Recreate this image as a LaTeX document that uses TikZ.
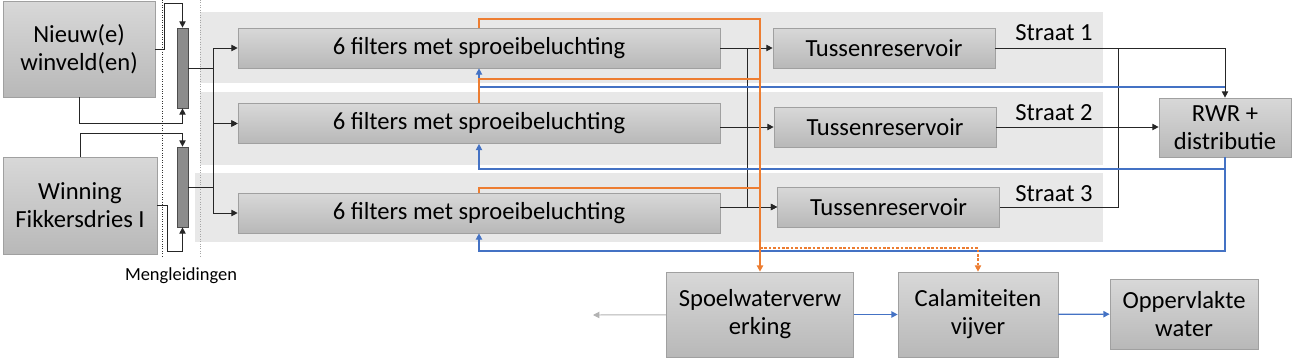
\documentclass[tikz,border=0pt]{standalone}
\usepackage{fontspec}
\setmainfont{Carlito}
\usetikzlibrary{arrows.meta,positioning}
\definecolor{boxtop}{RGB}{216,216,216}
\definecolor{boxbot}{RGB}{184,184,184}
\definecolor{boxline}{RGB}{160,160,160}
\definecolor{bandgray}{RGB}{232,232,232}
\definecolor{barfill}{RGB}{140,140,140}
\definecolor{wblue}{RGB}{68,114,196}
\definecolor{worange}{RGB}{237,125,49}
\tikzset{
  box/.style={draw=boxline, top color=boxtop, bottom color=boxbot, align=center,
              font=\fontsize{14}{16}\selectfont, inner sep=0pt},
  bar/.style={draw=black!70, fill=barfill, minimum width=0.22cm,
              minimum height=1.6cm, inner sep=0pt},
  band/.style={fill=bandgray, draw=none},
  pipe/.style={line width=0.55pt, black!85},
  flow/.style={pipe, -{Triangle[length=3.6pt,width=3.6pt]}},
  wash/.style={flow, worange, line width=0.9pt},
  back/.style={flow, wblue, line width=0.75pt},
  lbl/.style={font=\fontsize{14}{16}\selectfont},
}

\begin{document}
\begin{tikzpicture}[x=0.02cm, y=-0.02cm]
  \useasboundingbox (0,0) rectangle (1292,359);
  % three treatment lines (straten) as grey bands
  \foreach \l/\t/\b in {200/12/83, 200/92/165, 195/173/242}
    \fill[band] (\l,\t) rectangle (1103,\b);
  \draw[densely dotted, black!80] (162,0) -- (162,258);
  \draw[densely dotted, black!35] (200,0) -- (200,258);

  \node[box, minimum width=3.04cm, minimum height=1.92cm] (nieuw) at (79,49) {Nieuw(e)\\winveld(en)};
  \node[box, minimum width=3.08cm, minimum height=1.94cm] (winning) at (80,205.5) {Winning\\Fikkersdries I};
  \node[bar] (bar1) at (182.5,68) {};
  \node[bar] (bar2) at (182.5,187) {};
  \node[font=\fontsize{10.5}{12}\selectfont] (meng) at (181,276) {Mengleidingen};

  \foreach \i/\y in {1/48, 2/123.5, 3/213}
    \node[box, minimum width=9.64cm, minimum height=0.8cm] (f\i) at (479,\y) {6 filters met sproeibeluchting};
  \foreach \i/\x/\y in {1/884/48, 2/885/127, 3/888.5/207}
    \node[box, minimum width=4.44cm, minimum height=0.8cm] (t\i) at (\x,\y) {Tussenreservoir};
  \foreach \i/\y in {1/33, 2/113, 3/194}
    \node[lbl] (s\i) at (1054,\y) {Straat \i};

  \node[box, minimum width=2.64cm, minimum height=1.18cm] (rwr) at (1225,127.5) {RWR +\\distributie};
  \node[box, minimum width=3.74cm, minimum height=1.7cm] (spoel) at (760,314.5) {Spoelwaterverw\\erking};
  \node[box, minimum width=3.2cm, minimum height=1.7cm] (calam) at (978,314.5) {Calamiteiten\\vijver};
  \node[box, minimum width=2.96cm, minimum height=1.4cm] (opper) at (1184,314) {Oppervlakte\\water};
  \coordinate (afvoer) at (593,315);

  % raw water into the mixing pipes
  \draw[flow] (nieuw.east) -- (164,49) |- (182.5,3) -- (bar1.north);
  \draw[flow] (winning.east) -- (167,205.5) |- (182.5,251) -- (bar2.south);
  \draw[flow] (nieuw.south) |- (182.5,123) -- (bar1.south);
  \draw[flow] (winning.north) |- (182.5,133) -- (bar2.north);

  \draw[flow] (bar1.east) -- (213,68) |- (f1.west);
  \draw[flow] (bar1.east) -- (213,68) |- (f2.west);
  \draw[flow] (bar2.east) -- (213,187) |- (f2.west);
  \draw[flow] (bar2.east) -- (213,187) |- (f3.west);

  \draw[flow] (f1) -- (t1);
  \draw[flow] (f1.east) -- (747,48) |- (t3.west);
  \draw[flow] (f2.east |- t2) -- (t2);
  \draw[flow] (f3.east |- t3) -- (t3);

  \draw[flow] (t1) -| (rwr);
  \draw[flow] (t2.east) -- (t2.east -| rwr.west);
  \draw[pipe] (t3.east) -| (1118,48);

  % backwash water (blue) and wash water (orange)
  \draw[back] (rwr.south) -- (1225,251) -| (f3.south);
  \draw[back] (1225,169) -| (f2.south);
  \draw[back] (1225,87) -| (f1.south);

  \draw[wash] (f1.north) |- (760,19) -- (spoel.north);
  \draw[wash, -] (f2.north) |- (760,79);
  \draw[wash, -] (f3.north) |- (760,188);
  \draw[wash, dash pattern=on 1.5pt off 1pt, line width=0.6pt] (760,248) -| (calam.north);

  \draw[flow, black!30] (spoel) -- (afvoer);
  \draw[back] (spoel) -- (calam);
  \draw[back] (calam) -- (opper);
\end{tikzpicture}
\end{document}
